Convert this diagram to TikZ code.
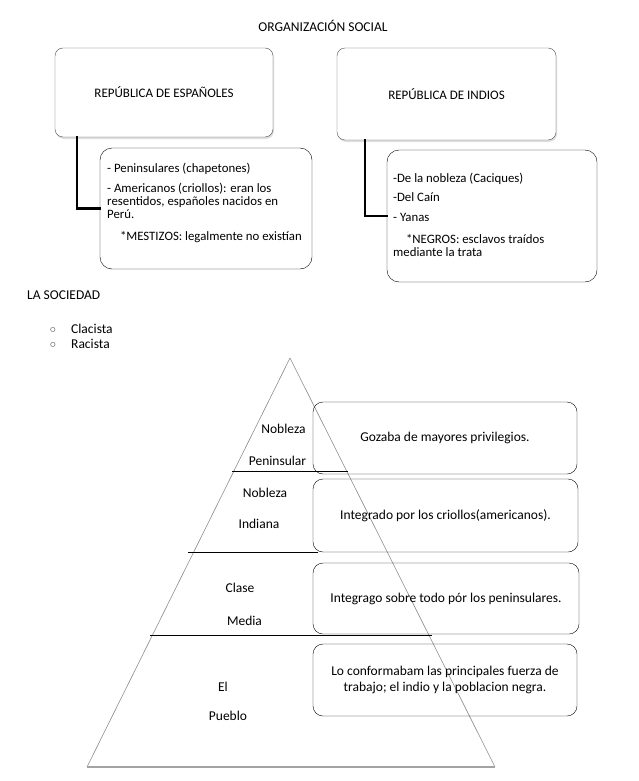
\documentclass[tikz,border=0pt]{standalone}
\usepackage{fontspec}
\setmainfont{Carlito}
\newfontfamily\symfont{DejaVu Sans}
\usepackage{tikz}
\usetikzlibrary{positioning, shadows}
\definecolor{boxline}{HTML}{505050}
\definecolor{pyrgray}{HTML}{8C8C8C}

\begin{document}
\begin{tikzpicture}[x=1pt, y=-1pt, font=\fontsize{13.5}{16}\selectfont,
  topbox/.style={draw=boxline, rounded corners=8pt, fill=white, drop shadow={opacity=0.25, shadow xshift=1pt, shadow yshift=-2pt}},
  subbox/.style={draw=black, rounded corners=12pt},
  subtext/.style={anchor=north west, align=left, inner sep=0pt, font=\fontsize{12.8}{13}\selectfont},
  infobox/.style={draw=black, rounded corners=10pt, align=center},
  link/.style={line width=2.6pt, line cap=rect},
  pyr/.style={draw=pyrgray, line width=0.6pt},
  layer/.style={anchor=center}]
  \useasboundingbox (0,0) rectangle (638,781);

  % titulo y repúblicas
  \node (title) at (323,26) {ORGANIZACIÓN SOCIAL};
  \node[topbox, minimum width=218pt, minimum height=89pt, font=\fontsize{13}{16}\selectfont] (espanoles) at (164,92.5) {REPÚBLICA DE ESPAÑOLES};
  \node[topbox, minimum width=219pt, minimum height=92pt, font=\fontsize{13}{16}\selectfont] (indios) at (446.5,94) {REPÚBLICA DE INDIOS};

  \node[subbox, minimum width=212pt, minimum height=121pt] (espchild) at (206,208.5) {};
  \node[subtext] (esptext) at (107,163)
    {- Peninsulares (chapetones)\\[7pt]
     - Americanos (criollos): eran los\\
     resentidos, españoles nacidos en\\
     Perú.\\[9pt]
     \quad*MESTIZOS: legalmente no existían};
  \node[subbox, minimum width=210pt, minimum height=132pt] (indchild) at (492,216) {};
  \node[subtext] (indtext) at (393,173)
    {-De la nobleza (Caciques)\\[6pt]
     -Del Caín\\[7pt]
     - Yanas\\[9pt]
     \quad*NEGROS: esclavos traídos\\
     mediante la trata};

  \draw[link] ([xshift=22pt]espanoles.south west) |- (espchild.west);
  \draw[link] ([xshift=28pt]indios.south west) |- (indchild.west);

  % la sociedad
  \node[anchor=west, inner sep=0pt] (sociedad) at (27,295) {LA SOCIEDAD};
  \node (b1) at (53,330) {\symfont\fontsize{6}{8}\selectfont ○};
  \node[anchor=west, inner sep=0pt] (clacista) at (71,329) {Clacista};
  \node (b2) at (53,345) {\symfont\fontsize{6}{8}\selectfont ○};
  \node[anchor=west, inner sep=0pt] (racista) at (71,344) {Racista};

  % piramide
  \draw[pyr] (290,358) -- (87,767);
  \draw[pyr] (290,358) -- (495,767);
  \draw[draw=pyrgray!80, line width=2pt] (87,767) -- (495,767);
  \draw[line width=0.8pt] (232,471) -- (348,471);
  \draw[line width=0.8pt] (188,552) -- (318,552);
  \draw[line width=0.8pt] (150,635) -- (432,635);

  \node[layer] (n1) at (283.5,429) {Nobleza};
  \node[layer] (p1) at (277.5,461) {Peninsular};
  \node[layer] (n2) at (265,493) {Nobleza};
  \node[layer] (i2) at (259,524) {Indiana};
  \node[layer] (c3) at (240,588) {Clase};
  \node[layer] (m3) at (244.5,621) {Media};
  \node[layer] (e4) at (223,687) {El};
  \node[layer] (u4) at (228,716) {Pueblo};

  \node[infobox, minimum width=264pt, minimum height=72pt] (nobpen) at (445,438) {Gozaba de mayores privilegios.};
  \node[infobox, minimum width=265pt, minimum height=73pt] (nobind) at (445.5,515.5) {Integrado por los criollos(americanos).};
  \node[infobox, minimum width=266pt, minimum height=71pt] (media) at (446,598.5) {Integrago sobre todo pór los peninsulares.};
  \node[infobox, minimum width=264pt, minimum height=72pt] (pueblo) at (445,680)
    {Lo conformabam las principales fuerza de\\trabajo; el indio y la poblacion negra.};
\end{tikzpicture}
\end{document}
